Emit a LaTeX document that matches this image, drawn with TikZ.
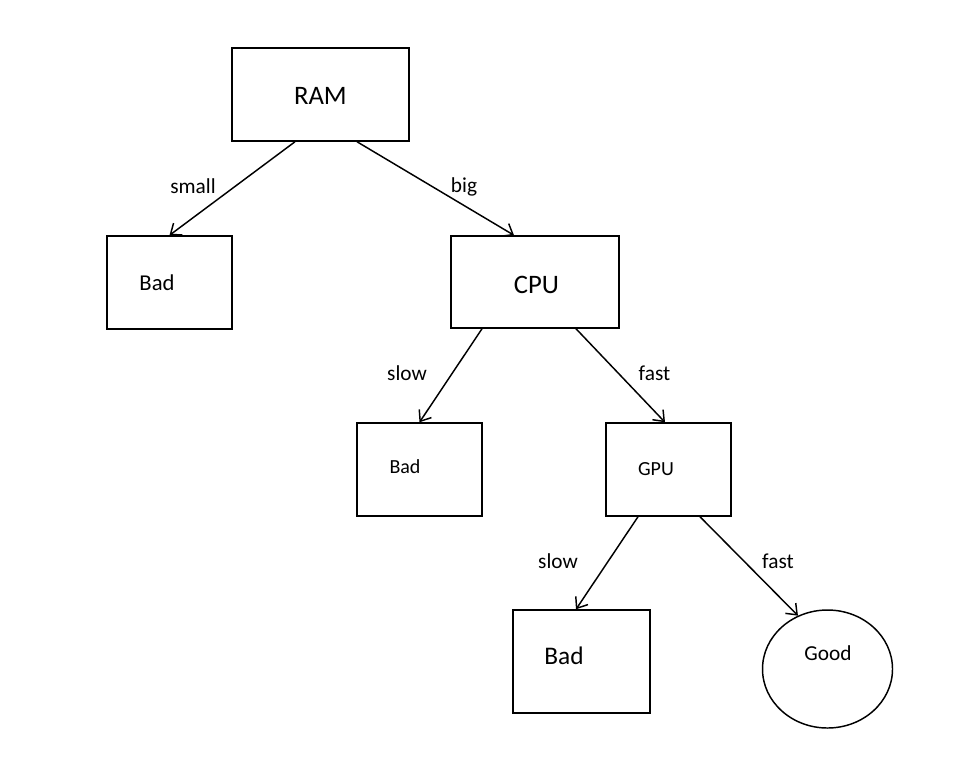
\documentclass[tikz,border=0pt]{standalone}
\usepackage{fontspec}
\setmainfont{Carlito}
\usetikzlibrary{arrows.meta,shapes.geometric}
\newdimen\px
\px=0.75pt

\tikzset{
  box/.style={draw, rectangle, inner sep=0pt, line width=1.1pt},
  leaf/.style={draw, ellipse, inner sep=0pt, line width=1.1pt},
  branch/.style={-{Straight Barb[length=7pt,width=11pt]}, line width=1.1pt},
  word/.style={anchor=base, inner sep=0pt}
}

\begin{document}
\begin{tikzpicture}[x=0.75pt,y=-0.75pt]
  \useasboundingbox (0,0) rectangle (969,768);

  % Draw boxes
  \node[box, minimum width=177\px, minimum height=93\px] (ram) at (320.5,94.5) {};
  \node[box, minimum width=125\px, minimum height=93\px] (bad1) at (169.5,282.5) {};
  \node[box, minimum width=168\px, minimum height=92\px] (cpu) at (535,282) {};
  \node[box, minimum width=125\px, minimum height=93\px] (bad2) at (419.5,469.5) {};
  \node[box, minimum width=125\px, minimum height=93\px] (gpu) at (668.5,469.5) {};
  \node[box, minimum width=137\px, minimum height=103\px] (bad3) at (581.5,661.5) {};
  \node[leaf, minimum width=130\px, minimum height=118\px] (good) at (827.5,669) {};

  % Box texts
  \node[word, font=\fontsize{20}{24}\selectfont] (tram) at (320.4,104) {RAM};
  \node[word, font=\fontsize{17}{20}\selectfont] (tbad1) at (157,290) {Bad};
  \node[word, font=\fontsize{20}{24}\selectfont] (tcpu) at (536.5,293) {CPU};
  \node[word, font=\fontsize{15}{18}\selectfont] (tbad2) at (405,473) {Bad};
  \node[word, font=\fontsize{15}{18}\selectfont] (tgpu) at (656,475) {GPU};
  \node[word, font=\fontsize{19}{23}\selectfont] (tbad3) at (564,664) {Bad};
  \node[word, font=\fontsize{16}{19}\selectfont] (tgood) at (828,660.7) {Good};

  % Draw branches
  \draw[branch] ([xshift=-25.5\px]ram.south) -- (bad1.north);
  \draw[branch] ([xshift=36.5\px]ram.south) -- ([xshift=-21\px]cpu.north);
  \draw[branch] ([xshift=-53\px]cpu.south) -- (bad2.north);
  \draw[branch] ([xshift=41\px]cpu.south) -- ([xshift=-3.5\px]gpu.north);
  \draw[branch] ([xshift=-30.5\px]gpu.south) -- ([xshift=-5.5\px]bad3.north);
  \draw[branch] ([xshift=31.5\px]gpu.south) -- (good.119);

  % Branch labels
  \node[word, font=\fontsize{16}{19}\selectfont] (lsmall) at (193,193) {small};
  \node[word, font=\fontsize{16}{19}\selectfont] (lbig) at (464,192.3) {big};
  \node[word, font=\fontsize{16}{19}\selectfont] (lslow1) at (407,380) {slow};
  \node[word, font=\fontsize{16}{19}\selectfont] (lfast1) at (654.5,380) {fast};
  \node[word, font=\fontsize{16}{19}\selectfont] (lslow2) at (558,568) {slow};
  \node[word, font=\fontsize{16}{19}\selectfont] (lfast2) at (778,568) {fast};
\end{tikzpicture}
\end{document}
